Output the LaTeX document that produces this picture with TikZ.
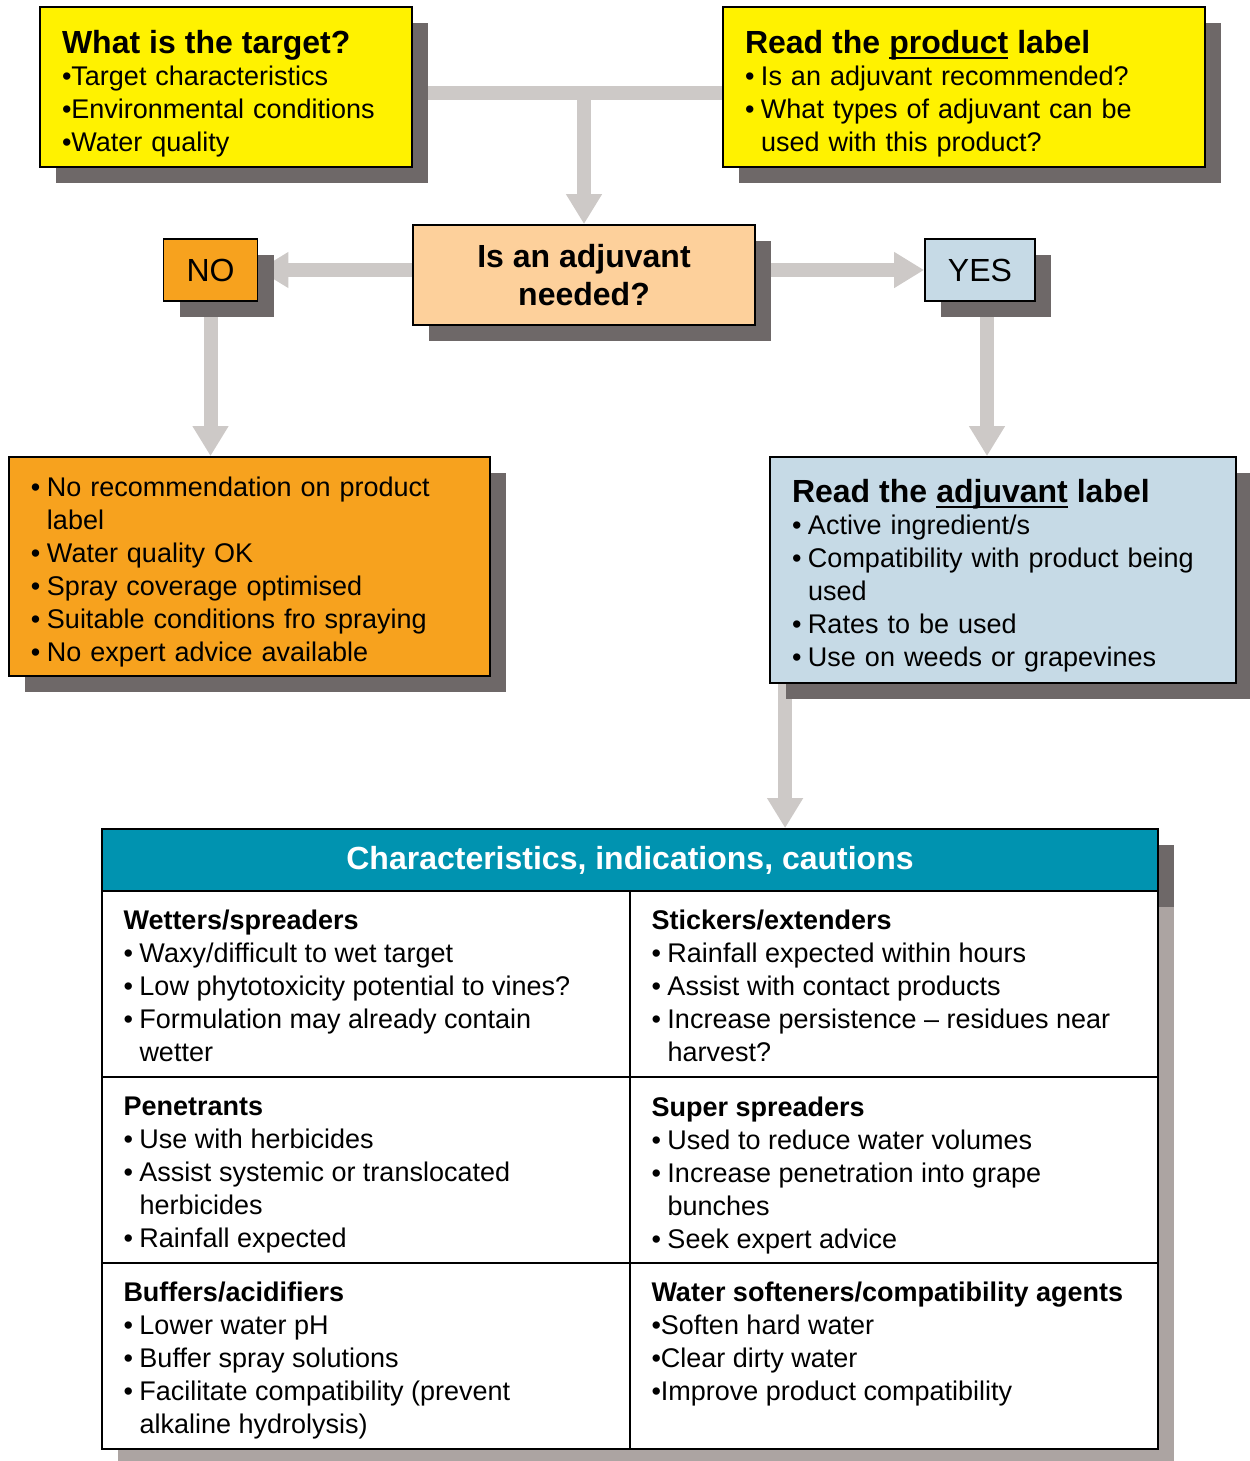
\documentclass[tikz,border=0pt]{standalone}
\usepackage{fontspec}
\setmainfont{Liberation Sans}
\usetikzlibrary{arrows.meta,shadows,backgrounds}
\definecolor{boxyellow}{RGB}{255,242,0}
\definecolor{boxpeach}{RGB}{253,208,155}
\definecolor{boxorange}{RGB}{247,162,30}
\definecolor{boxblue}{RGB}{198,218,230}
\definecolor{headteal}{RGB}{0,147,176}
\definecolor{bargrey}{RGB}{205,201,199}
\definecolor{shadedark}{RGB}{110,104,104}
\definecolor{shadelight}{RGB}{172,164,162}
\newsavebox\undlbox
\newcommand\undl[1]{\sbox\undlbox{#1}\rlap{\rule[-2.8pt]{\wd\undlbox}{1.1pt}}\usebox\undlbox}
\newcommand\bodyfont{\fontsize{13.5}{16.5}\selectfont}
\newcommand\titlefont{\fontsize{16}{19}\selectfont\bfseries}
\newcommand\bul[1]{\makebox[8pt][l]{•}#1}
\newcommand\cnt[1]{\hspace*{8pt}#1}
\begin{document}
\begin{tikzpicture}[x=0.5pt,y=-0.5pt,
  box/.style={draw=black,line width=0.9pt,inner xsep=11pt,inner ysep=0pt,align=left,font=\bodyfont,
    drop shadow={shadow xshift=8pt,shadow yshift=-8pt,fill=shadedark,opacity=1}},
  pad/.style={execute at begin node={\rule{0pt}{#1}}},
  cell/.style={draw=black,line width=0.9pt,fill=white,minimum width=264pt,minimum height=93pt,
    drop shadow={shadow xshift=8pt,shadow yshift=-8pt,fill=shadelight,opacity=1}},
  celltext/.style={anchor=north west,inner sep=0pt,align=left,font=\bodyfont},
  bar/.style={draw=bargrey,line width=7pt},
  bararrow/.style={bar,-{Triangle[length=15pt,width=17pt]}}]
\useasboundingbox (0,0) rectangle (1249,1461);
\node[box,pad=18pt,fill=boxyellow,text width=164pt,minimum height=80pt] (target) at (226,87)
  {{\titlefont What is the target?}\\[-0.5pt]
   •Target characteristics\\
   •Environmental conditions\\
   •Water quality};
\node[box,pad=18pt,fill=boxyellow,text width=219pt,minimum height=80pt] (prodlabel) at (964,87)
  {{\titlefont Read the \undl{product} label}\\[-0.5pt]
   \bul{Is an adjuvant recommended?}\\
   \bul{What types of adjuvant can be}\\
   \cnt{used with this product?}};
\node[box,fill=boxpeach,align=center,font=\titlefont,minimum width=171pt,minimum height=50pt] (question) at (584,275)
  {Is an adjuvant\\needed?};
\node[box,fill=boxorange,inner xsep=0pt,font=\fontsize{16}{19}\selectfont,minimum width=47pt,minimum height=31pt] (no) at (210.5,270) {NO};
\node[box,fill=boxblue,inner xsep=0pt,font=\fontsize{16}{19}\selectfont,minimum width=55pt,minimum height=31pt] (yes) at (980,270) {YES};
\node[box,pad=15pt,fill=boxorange,text width=218.5pt,minimum height=109.5pt] (noinfo) at (249.5,566.5)
  {\bul{No recommendation on product}\\
   \cnt{label}\\
   \bul{Water quality OK}\\
   \bul{Spray coverage optimised}\\
   \bul{Suitable conditions fro spraying}\\
   \bul{No expert advice available}};
\node[box,pad=17pt,fill=boxblue,text width=211pt,minimum height=113pt] (adjlabel) at (1003,570)
  {{\titlefont Read the \undl{adjuvant} label}\\[-0.5pt]
   \bul{Active ingredient/s}\\
   \bul{Compatibility with product being}\\
   \cnt{used}\\
   \bul{Rates to be used}\\
   \bul{Use on weeds or grapevines}};
\node[draw=black,line width=0.9pt,fill=headteal,text=white,font=\titlefont,minimum width=528pt,minimum height=31pt,
  drop shadow={shadow xshift=8pt,shadow yshift=-8pt,fill=shadedark,opacity=1}] (head) at (630,860)
  {Characteristics, indications, cautions};
\node[cell] (wet) at (366,984) {};
\node[cell] (stick) at (894,984) {};
\node[cell] (pen) at (366,1170) {};
\node[cell] (super) at (894,1170) {};
\node[cell] (buf) at (366,1356) {};
\node[cell] (soft) at (894,1356) {};
\node[celltext] (wettxt) at ([xshift=11pt,yshift=-9.5pt]wet.north west)
  {\textbf{Wetters/spreaders}\\
   \bul{Waxy/difficult to wet target}\\
   \bul{Low phytotoxicity potential to vines?}\\
   \bul{Formulation may already contain}\\
   \cnt{wetter}};
\node[celltext] (sticktxt) at ([xshift=11pt,yshift=-9.5pt]stick.north west)
  {\textbf{Stickers/extenders}\\
   \bul{Rainfall expected within hours}\\
   \bul{Assist with contact products}\\
   \bul{Increase persistence – residues near}\\
   \cnt{harvest?}};
\node[celltext] (pentxt) at ([xshift=11pt,yshift=-10pt]pen.north west)
  {\textbf{Penetrants}\\
   \bul{Use with herbicides}\\
   \bul{Assist systemic or translocated}\\
   \cnt{herbicides}\\
   \bul{Rainfall expected}};
\node[celltext] (supertxt) at ([xshift=11pt,yshift=-10pt]super.north west)
  {\textbf{Super spreaders}\\
   \bul{Used to reduce water volumes}\\
   \bul{Increase penetration into grape}\\
   \cnt{bunches}\\
   \bul{Seek expert advice}};
\node[celltext] (buftxt) at ([xshift=11pt,yshift=-9.5pt]buf.north west)
  {\textbf{Buffers/acidifiers}\\
   \bul{Lower water pH}\\
   \bul{Buffer spray solutions}\\
   \bul{Facilitate compatibility (prevent}\\
   \cnt{alkaline hydrolysis)}};
\node[celltext] (softtxt) at ([xshift=11pt,yshift=-9.5pt]soft.north west)
  {\textbf{Water softeners/compatibility agents}\\
   •Soften hard water\\
   •Clear dirty water\\
   •Improve product compatibility};
\begin{scope}[on background layer]
\coordinate (join) at (584,93);
\draw[bar] (target.east |- join) -- (prodlabel.west |- join);
\draw[bararrow] (join) -- (join |- question.north);
\draw[bararrow] (question.west |- no.east) -- (no.east);
\draw[bararrow] (question.east |- yes.west) -- (yes.west);
\draw[bararrow] (no.south) -- (no.south |- noinfo.north);
\draw[bararrow] ([xshift=3.5pt]yes.south) -- ([xshift=3.5pt]yes.south |- adjlabel.north);
\draw[bararrow] ([xshift=8pt]adjlabel.south west) -- ([xshift=8pt]adjlabel.south west |- head.north);
\end{scope}
\end{tikzpicture}
\end{document}
